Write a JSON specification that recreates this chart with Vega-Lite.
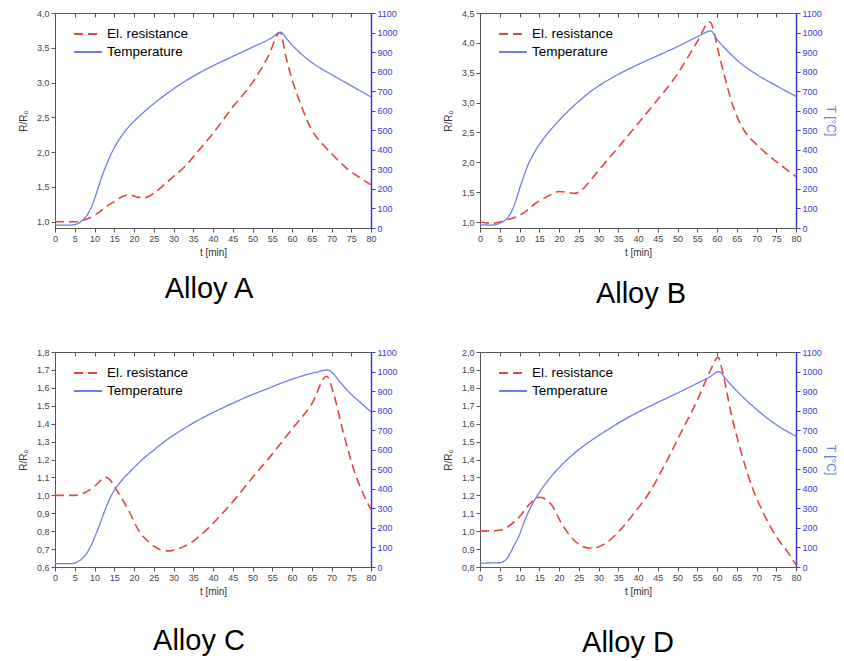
{
  "$schema": "https://vega.github.io/schema/vega-lite/v6.json",
  "padding": {"left": 17, "top": 8, "right": 0, "bottom": 0},
  "background": "white",
  "config": {
    "font": "Liberation Sans",
    "view": {"stroke": "#555", "strokeWidth": 1},
    "axis": {"grid": false, "labelFontSize": 9, "labelColor": "#444", "titleFontSize": 10, "titleFontWeight": "normal", "titleColor": "#333", "tickColor": "#555", "domainColor": "#555", "tickSize": 4, "labelFlush": false},
    "axisLeft": {"titlePadding": 8},
    "legend": {"orient": "none", "legendX": 25, "legendY": 13, "title": null, "symbolType": "M-2,0H2", "symbolSize": 196, "symbolStrokeWidth": 2, "labelFontSize": 13.5, "labelColor": "#000", "labelOffset": 11, "rowPadding": 3, "padding": 0},
    "title": {"orient": "bottom", "fontSize": 29, "fontWeight": "normal", "color": "#000", "anchor": "middle"},
    "line": {"interpolate": "monotone"}
  },
  "datasets": {
    "A": [
      {"s":"El. resistance","t":0,"v":1.0},{"s":"El. resistance","t":5,"v":1.0},{"s":"El. resistance","t":7,"v":1.02},{"s":"El. resistance","t":9,"v":1.06},{"s":"El. resistance","t":11,"v":1.13},{"s":"El. resistance","t":13,"v":1.22},{"s":"El. resistance","t":15,"v":1.29},{"s":"El. resistance","t":17,"v":1.36},{"s":"El. resistance","t":19,"v":1.39},{"s":"El. resistance","t":21,"v":1.35},{"s":"El. resistance","t":23,"v":1.35},{"s":"El. resistance","t":25,"v":1.41},{"s":"El. resistance","t":28,"v":1.55},{"s":"El. resistance","t":30,"v":1.65},{"s":"El. resistance","t":33,"v":1.8},{"s":"El. resistance","t":36,"v":2.0},{"s":"El. resistance","t":40,"v":2.27},{"s":"El. resistance","t":45,"v":2.65},{"s":"El. resistance","t":50,"v":3.0},{"s":"El. resistance","t":54,"v":3.38},{"s":"El. resistance","t":57,"v":3.72},{"s":"El. resistance","t":58.5,"v":3.36},{"s":"El. resistance","t":60,"v":3.05},{"s":"El. resistance","t":62,"v":2.72},{"s":"El. resistance","t":65,"v":2.32},{"s":"El. resistance","t":68,"v":2.1},{"s":"El. resistance","t":70,"v":1.98},{"s":"El. resistance","t":74,"v":1.76},{"s":"El. resistance","t":77,"v":1.64},{"s":"El. resistance","t":80,"v":1.53},
      {"s":"Temperature","t":0,"v":15},{"s":"Temperature","t":4,"v":15},{"s":"Temperature","t":6,"v":25},{"s":"Temperature","t":7,"v":40},{"s":"Temperature","t":8,"v":62},{"s":"Temperature","t":9,"v":98},{"s":"Temperature","t":10,"v":148},{"s":"Temperature","t":11,"v":210},{"s":"Temperature","t":12,"v":270},{"s":"Temperature","t":13,"v":322},{"s":"Temperature","t":14,"v":370},{"s":"Temperature","t":15,"v":410},{"s":"Temperature","t":16,"v":445},{"s":"Temperature","t":17,"v":475},{"s":"Temperature","t":18,"v":502},{"s":"Temperature","t":20,"v":546},{"s":"Temperature","t":22,"v":584},{"s":"Temperature","t":25,"v":636},{"s":"Temperature","t":30,"v":712},{"s":"Temperature","t":35,"v":776},{"s":"Temperature","t":40,"v":830},{"s":"Temperature","t":45,"v":878},{"s":"Temperature","t":50,"v":925},{"s":"Temperature","t":55,"v":975},{"s":"Temperature","t":57,"v":1002},{"s":"Temperature","t":59,"v":960},{"s":"Temperature","t":60,"v":937},{"s":"Temperature","t":62,"v":897},{"s":"Temperature","t":65,"v":847},{"s":"Temperature","t":70,"v":785},{"s":"Temperature","t":75,"v":728},{"s":"Temperature","t":80,"v":670}
    ],
    "B": [
      {"s":"El. resistance","t":0,"v":1.0},{"s":"El. resistance","t":3,"v":0.98},{"s":"El. resistance","t":5,"v":1.0},{"s":"El. resistance","t":7,"v":1.04},{"s":"El. resistance","t":10,"v":1.11},{"s":"El. resistance","t":12,"v":1.2},{"s":"El. resistance","t":14,"v":1.31},{"s":"El. resistance","t":16,"v":1.39},{"s":"El. resistance","t":18,"v":1.46},{"s":"El. resistance","t":20,"v":1.51},{"s":"El. resistance","t":22,"v":1.5},{"s":"El. resistance","t":24,"v":1.48},{"s":"El. resistance","t":26,"v":1.55},{"s":"El. resistance","t":28,"v":1.7},{"s":"El. resistance","t":30,"v":1.86},{"s":"El. resistance","t":35,"v":2.25},{"s":"El. resistance","t":40,"v":2.65},{"s":"El. resistance","t":45,"v":3.05},{"s":"El. resistance","t":50,"v":3.48},{"s":"El. resistance","t":55,"v":4.02},{"s":"El. resistance","t":58.2,"v":4.35},{"s":"El. resistance","t":59.2,"v":4.2},{"s":"El. resistance","t":60,"v":3.95},{"s":"El. resistance","t":61.5,"v":3.55},{"s":"El. resistance","t":64,"v":2.95},{"s":"El. resistance","t":67,"v":2.52},{"s":"El. resistance","t":70,"v":2.3},{"s":"El. resistance","t":73,"v":2.12},{"s":"El. resistance","t":76,"v":1.96},{"s":"El. resistance","t":80,"v":1.76},
      {"s":"Temperature","t":0,"v":17},{"s":"Temperature","t":3,"v":15},{"s":"Temperature","t":5,"v":25},{"s":"Temperature","t":7,"v":52},{"s":"Temperature","t":8,"v":85},{"s":"Temperature","t":9,"v":136},{"s":"Temperature","t":10,"v":200},{"s":"Temperature","t":11,"v":260},{"s":"Temperature","t":12,"v":315},{"s":"Temperature","t":14,"v":395},{"s":"Temperature","t":16,"v":455},{"s":"Temperature","t":18,"v":505},{"s":"Temperature","t":20,"v":550},{"s":"Temperature","t":24,"v":630},{"s":"Temperature","t":28,"v":698},{"s":"Temperature","t":34,"v":775},{"s":"Temperature","t":40,"v":836},{"s":"Temperature","t":45,"v":882},{"s":"Temperature","t":50,"v":928},{"s":"Temperature","t":55,"v":978},{"s":"Temperature","t":58.5,"v":1008},{"s":"Temperature","t":60,"v":965},{"s":"Temperature","t":62,"v":920},{"s":"Temperature","t":65,"v":860},{"s":"Temperature","t":70,"v":786},{"s":"Temperature","t":75,"v":728},{"s":"Temperature","t":80,"v":673}
    ],
    "C": [
      {"s":"El. resistance","t":0,"v":1.0},{"s":"El. resistance","t":5,"v":1.0},{"s":"El. resistance","t":8,"v":1.02},{"s":"El. resistance","t":10,"v":1.05},{"s":"El. resistance","t":12,"v":1.09},{"s":"El. resistance","t":13,"v":1.1},{"s":"El. resistance","t":14,"v":1.085},{"s":"El. resistance","t":15,"v":1.05},{"s":"El. resistance","t":17,"v":0.98},{"s":"El. resistance","t":19,"v":0.9},{"s":"El. resistance","t":21,"v":0.81},{"s":"El. resistance","t":24,"v":0.735},{"s":"El. resistance","t":27,"v":0.695},{"s":"El. resistance","t":29,"v":0.69},{"s":"El. resistance","t":31,"v":0.7},{"s":"El. resistance","t":34,"v":0.73},{"s":"El. resistance","t":38,"v":0.8},{"s":"El. resistance","t":42,"v":0.89},{"s":"El. resistance","t":46,"v":0.99},{"s":"El. resistance","t":50,"v":1.1},{"s":"El. resistance","t":55,"v":1.23},{"s":"El. resistance","t":60,"v":1.37},{"s":"El. resistance","t":65,"v":1.51},{"s":"El. resistance","t":68.8,"v":1.665},{"s":"El. resistance","t":70.5,"v":1.57},{"s":"El. resistance","t":73,"v":1.35},{"s":"El. resistance","t":76,"v":1.12},{"s":"El. resistance","t":78,"v":1.01},{"s":"El. resistance","t":80,"v":0.92},
      {"s":"Temperature","t":0,"v":17},{"s":"Temperature","t":4,"v":17},{"s":"Temperature","t":6,"v":30},{"s":"Temperature","t":7,"v":45},{"s":"Temperature","t":8,"v":70},{"s":"Temperature","t":9,"v":105},{"s":"Temperature","t":10,"v":150},{"s":"Temperature","t":11,"v":200},{"s":"Temperature","t":12,"v":255},{"s":"Temperature","t":13,"v":310},{"s":"Temperature","t":14,"v":355},{"s":"Temperature","t":15,"v":392},{"s":"Temperature","t":17,"v":445},{"s":"Temperature","t":19,"v":488},{"s":"Temperature","t":22,"v":548},{"s":"Temperature","t":25,"v":598},{"s":"Temperature","t":28,"v":646},{"s":"Temperature","t":32,"v":700},{"s":"Temperature","t":36,"v":748},{"s":"Temperature","t":41,"v":800},{"s":"Temperature","t":45,"v":838},{"s":"Temperature","t":49,"v":874},{"s":"Temperature","t":54,"v":914},{"s":"Temperature","t":58,"v":946},{"s":"Temperature","t":62,"v":974},{"s":"Temperature","t":66,"v":996},{"s":"Temperature","t":69,"v":1008},{"s":"Temperature","t":70.5,"v":988},{"s":"Temperature","t":72,"v":950},{"s":"Temperature","t":75,"v":883},{"s":"Temperature","t":78,"v":830},{"s":"Temperature","t":80,"v":793}
    ],
    "D": [
      {"s":"El. resistance","t":0,"v":1.0},{"s":"El. resistance","t":5,"v":1.005},{"s":"El. resistance","t":8,"v":1.04},{"s":"El. resistance","t":10,"v":1.08},{"s":"El. resistance","t":12,"v":1.137},{"s":"El. resistance","t":14,"v":1.18},{"s":"El. resistance","t":15,"v":1.189},{"s":"El. resistance","t":16,"v":1.185},{"s":"El. resistance","t":18,"v":1.15},{"s":"El. resistance","t":21,"v":1.03},{"s":"El. resistance","t":24,"v":0.945},{"s":"El. resistance","t":26,"v":0.915},{"s":"El. resistance","t":28,"v":0.905},{"s":"El. resistance","t":30,"v":0.912},{"s":"El. resistance","t":32,"v":0.935},{"s":"El. resistance","t":35,"v":0.995},{"s":"El. resistance","t":39,"v":1.1},{"s":"El. resistance","t":43,"v":1.22},{"s":"El. resistance","t":47,"v":1.38},{"s":"El. resistance","t":51,"v":1.555},{"s":"El. resistance","t":55,"v":1.73},{"s":"El. resistance","t":58,"v":1.88},{"s":"El. resistance","t":60.3,"v":1.97},{"s":"El. resistance","t":61.5,"v":1.88},{"s":"El. resistance","t":63.5,"v":1.665},{"s":"El. resistance","t":66,"v":1.45},{"s":"El. resistance","t":69,"v":1.24},{"s":"El. resistance","t":72,"v":1.09},{"s":"El. resistance","t":75,"v":0.97},{"s":"El. resistance","t":78,"v":0.88},{"s":"El. resistance","t":80,"v":0.812},
      {"s":"Temperature","t":0,"v":20},{"s":"Temperature","t":5,"v":22},{"s":"Temperature","t":6.5,"v":37},{"s":"Temperature","t":7.5,"v":65},{"s":"Temperature","t":8.5,"v":105},{"s":"Temperature","t":10,"v":165},{"s":"Temperature","t":11,"v":220},{"s":"Temperature","t":12,"v":270},{"s":"Temperature","t":13,"v":312},{"s":"Temperature","t":14,"v":348},{"s":"Temperature","t":16,"v":410},{"s":"Temperature","t":18,"v":462},{"s":"Temperature","t":20,"v":508},{"s":"Temperature","t":24,"v":584},{"s":"Temperature","t":28,"v":645},{"s":"Temperature","t":32,"v":698},{"s":"Temperature","t":35,"v":736},{"s":"Temperature","t":40,"v":792},{"s":"Temperature","t":45,"v":842},{"s":"Temperature","t":50,"v":890},{"s":"Temperature","t":55,"v":940},{"s":"Temperature","t":58,"v":970},{"s":"Temperature","t":60.5,"v":1000},{"s":"Temperature","t":62,"v":968},{"s":"Temperature","t":64,"v":922},{"s":"Temperature","t":66,"v":880},{"s":"Temperature","t":70,"v":807},{"s":"Temperature","t":73,"v":757},{"s":"Temperature","t":76,"v":715},{"s":"Temperature","t":80,"v":669}
    ]
  },
  "resolve": {"scale": {"color": "independent", "strokeDash": "independent"}, "legend": {"color": "independent", "strokeDash": "independent"}},
  "spacing": 37,
  "vconcat": [
    {
      "spacing": 44,
      "resolve": {"scale": {"color": "independent", "strokeDash": "independent"}, "legend": {"color": "independent", "strokeDash": "independent"}},
      "hconcat": [
        {
          "width": 316, "height": 215,
          "data": {"name": "A"},
          "title": {"text": "Alloy A", "offset": 18, "dx": -4},
          "encoding": {"x": {"field": "t", "type": "quantitative", "scale": {"domain": [0, 80], "nice": false}, "axis": {"values": [0,5,10,15,20,25,30,35,40,45,50,55,60,65,70,75,80], "title": "t [min]"}}},
          "layer": [
            {"transform": [{"filter": "datum.s == 'El. resistance'"}], "mark": {"type": "line", "strokeWidth": 1.6},
             "encoding": {"y": {"field": "v", "type": "quantitative", "scale": {"domain": [0.91, 4.0], "nice": false, "zero": false}, "axis": {"values": [1.0,1.5,2.0,2.5,3.0,3.5,4.0], "labelExpr": "replace(format(datum.value, '.1f'), '.', ',')", "title": "R/R₀"}},
               "color": {"field": "s", "type": "nominal", "scale": {"domain": ["El. resistance", "Temperature"], "range": ["#e2473f", "#6d7ee6"]}},
               "strokeDash": {"field": "s", "type": "nominal", "scale": {"domain": ["El. resistance", "Temperature"], "range": [[9, 5], [1, 0]]}}}},
            {"transform": [{"filter": "datum.s == 'Temperature'"}], "mark": {"type": "line", "strokeWidth": 1.3},
             "encoding": {"x": {"field": "t", "type": "quantitative", "axis": {"orient": "top", "values": [0,5,10,15,20,25,30,35,40,45,50,55,60,65,70,75,80], "labels": false, "title": null, "domain": false, "tickSize": -4}},
               "y": {"field": "v", "type": "quantitative", "scale": {"domain": [0, 1100], "nice": false}, "axis": {"orient": "right", "format": "d", "values": [0,100,200,300,400,500,600,700,800,900,1000,1100], "title": null, "labelColor": "#3a3ad8", "tickColor": "#3a3ad8", "domainColor": "#3a3ad8", "domainWidth": 1.5}},
               "color": {"field": "s", "type": "nominal"},
               "strokeDash": {"field": "s", "type": "nominal"}}}
          ],
          "resolve": {"scale": {"y": "independent"}, "axis": {"x": "independent"}}
        },
        {
          "width": 316, "height": 215,
          "data": {"name": "B"},
          "title": {"text": "Alloy B", "offset": 23, "dx": 3},
          "encoding": {"x": {"field": "t", "type": "quantitative", "scale": {"domain": [0, 80], "nice": false}, "axis": {"values": [0,5,10,15,20,25,30,35,40,45,50,55,60,65,70,75,80], "title": "t [min]"}}},
          "layer": [
            {"transform": [{"filter": "datum.s == 'El. resistance'"}], "mark": {"type": "line", "strokeWidth": 1.6},
             "encoding": {"y": {"field": "v", "type": "quantitative", "scale": {"domain": [0.9, 4.5], "nice": false, "zero": false}, "axis": {"values": [1.0,1.5,2.0,2.5,3.0,3.5,4.0,4.5], "labelExpr": "replace(format(datum.value, '.1f'), '.', ',')", "title": "R/R₀"}},
               "color": {"field": "s", "type": "nominal", "scale": {"domain": ["El. resistance", "Temperature"], "range": ["#e2473f", "#6d7ee6"]}},
               "strokeDash": {"field": "s", "type": "nominal", "scale": {"domain": ["El. resistance", "Temperature"], "range": [[9, 5], [1, 0]]}}}},
            {"transform": [{"filter": "datum.s == 'Temperature'"}], "mark": {"type": "line", "strokeWidth": 1.3},
             "encoding": {"x": {"field": "t", "type": "quantitative", "axis": {"orient": "top", "values": [0,5,10,15,20,25,30,35,40,45,50,55,60,65,70,75,80], "labels": false, "title": null, "domain": false, "tickSize": -4}},
               "y": {"field": "v", "type": "quantitative", "scale": {"domain": [0, 1100], "nice": false}, "axis": {"orient": "right", "format": "d", "values": [0,100,200,300,400,500,600,700,800,900,1000,1100], "title": "T [°C]", "titleColor": "#6d7ee6", "titleFontSize": 12, "titlePadding": 1, "labelColor": "#3a3ad8", "tickColor": "#3a3ad8", "domainColor": "#3a3ad8", "domainWidth": 1.5}},
               "color": {"field": "s", "type": "nominal"},
               "strokeDash": {"field": "s", "type": "nominal"}}}
          ],
          "resolve": {"scale": {"y": "independent"}, "axis": {"x": "independent"}}
        }
      ]
    },
    {
      "spacing": 44,
      "resolve": {"scale": {"color": "independent", "strokeDash": "independent"}, "legend": {"color": "independent", "strokeDash": "independent"}},
      "hconcat": [
        {
          "width": 316, "height": 215,
          "data": {"name": "C"},
          "title": {"text": "Alloy C", "offset": 31, "dx": -14},
          "encoding": {"x": {"field": "t", "type": "quantitative", "scale": {"domain": [0, 80], "nice": false}, "axis": {"values": [0,5,10,15,20,25,30,35,40,45,50,55,60,65,70,75,80], "title": "t [min]"}}},
          "layer": [
            {"transform": [{"filter": "datum.s == 'El. resistance'"}], "mark": {"type": "line", "strokeWidth": 1.6},
             "encoding": {"y": {"field": "v", "type": "quantitative", "scale": {"domain": [0.6, 1.8], "nice": false, "zero": false}, "axis": {"values": [0.6,0.7,0.8,0.9,1.0,1.1,1.2,1.3,1.4,1.5,1.6,1.7,1.8], "labelExpr": "replace(format(datum.value, '.1f'), '.', ',')", "title": "R/R₀"}},
               "color": {"field": "s", "type": "nominal", "scale": {"domain": ["El. resistance", "Temperature"], "range": ["#e2473f", "#6d7ee6"]}},
               "strokeDash": {"field": "s", "type": "nominal", "scale": {"domain": ["El. resistance", "Temperature"], "range": [[9, 5], [1, 0]]}}}},
            {"transform": [{"filter": "datum.s == 'Temperature'"}], "mark": {"type": "line", "strokeWidth": 1.3},
             "encoding": {"x": {"field": "t", "type": "quantitative", "axis": {"orient": "top", "values": [0,5,10,15,20,25,30,35,40,45,50,55,60,65,70,75,80], "labels": false, "title": null, "domain": false, "tickSize": -4}},
               "y": {"field": "v", "type": "quantitative", "scale": {"domain": [0, 1100], "nice": false}, "axis": {"orient": "right", "format": "d", "values": [0,100,200,300,400,500,600,700,800,900,1000,1100], "title": null, "labelColor": "#3a3ad8", "tickColor": "#3a3ad8", "domainColor": "#3a3ad8", "domainWidth": 1.5}},
               "color": {"field": "s", "type": "nominal"},
               "strokeDash": {"field": "s", "type": "nominal"}}}
          ],
          "resolve": {"scale": {"y": "independent"}, "axis": {"x": "independent"}}
        },
        {
          "width": 316, "height": 215,
          "data": {"name": "D"},
          "title": {"text": "Alloy D", "offset": 33, "dx": -10},
          "encoding": {"x": {"field": "t", "type": "quantitative", "scale": {"domain": [0, 80], "nice": false}, "axis": {"values": [0,5,10,15,20,25,30,35,40,45,50,55,60,65,70,75,80], "title": "t [min]"}}},
          "layer": [
            {"transform": [{"filter": "datum.s == 'El. resistance'"}], "mark": {"type": "line", "strokeWidth": 1.6},
             "encoding": {"y": {"field": "v", "type": "quantitative", "scale": {"domain": [0.8, 2.0], "nice": false, "zero": false}, "axis": {"values": [0.8,0.9,1.0,1.1,1.2,1.3,1.4,1.5,1.6,1.7,1.8,1.9,2.0], "labelExpr": "replace(format(datum.value, '.1f'), '.', ',')", "title": "R/R₀"}},
               "color": {"field": "s", "type": "nominal", "scale": {"domain": ["El. resistance", "Temperature"], "range": ["#e2473f", "#6d7ee6"]}},
               "strokeDash": {"field": "s", "type": "nominal", "scale": {"domain": ["El. resistance", "Temperature"], "range": [[9, 5], [1, 0]]}}}},
            {"transform": [{"filter": "datum.s == 'Temperature'"}], "mark": {"type": "line", "strokeWidth": 1.3},
             "encoding": {"x": {"field": "t", "type": "quantitative", "axis": {"orient": "top", "values": [0,5,10,15,20,25,30,35,40,45,50,55,60,65,70,75,80], "labels": false, "title": null, "domain": false, "tickSize": -4}},
               "y": {"field": "v", "type": "quantitative", "scale": {"domain": [0, 1100], "nice": false}, "axis": {"orient": "right", "format": "d", "values": [0,100,200,300,400,500,600,700,800,900,1000,1100], "title": "T [°C]", "titleColor": "#6d7ee6", "titleFontSize": 12, "titlePadding": 1, "labelColor": "#3a3ad8", "tickColor": "#3a3ad8", "domainColor": "#3a3ad8", "domainWidth": 1.5}},
               "color": {"field": "s", "type": "nominal"},
               "strokeDash": {"field": "s", "type": "nominal"}}}
          ],
          "resolve": {"scale": {"y": "independent"}, "axis": {"x": "independent"}}
        }
      ]
    }
  ]
}
